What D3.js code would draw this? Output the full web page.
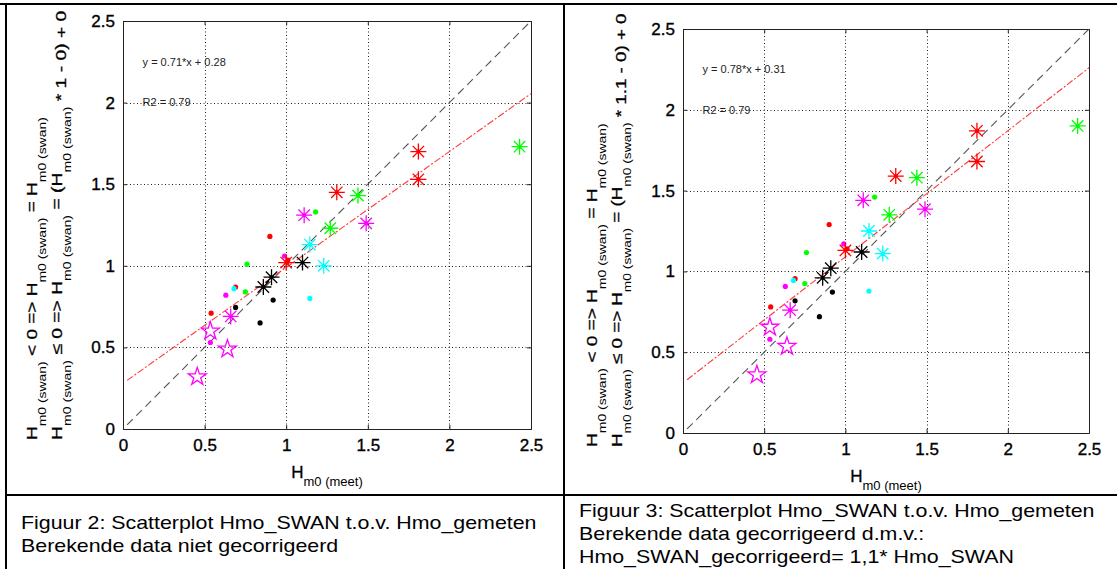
<!DOCTYPE html>
<html>
<head>
<meta charset="utf-8">
<script src="https://cdn.jsdelivr.net/npm/d3@7/dist/d3.min.js"></script>
<style>
  body { margin: 0; background: #fff; }
  svg { display: block; }
  text { font-family: "Liberation Sans", Arial, sans-serif; }
</style>
</head>
<body>
<div id="chart"></div>
<script>
// axis ticks (same on x and y)
const tickValues = [0, 0.5, 1, 1.5, 2, 2.5];
const tickLabels = ["0", "0.5", "1", "1.5", "2", "2.5"];

// marker colour classes
const groups = ["r", "g", "m", "c", "k"];

// large asterisks: measured Hm0, SWAN (fig 2), SWAN corrected (fig 3)
const astGroup = ["r", "r", "r", "r", "g", "g", "g", "m", "m", "m", "c", "c", "k", "k", "k"];
const astX     = [1.81, 1.81, 1.31, 1.00, 2.43, 1.44, 1.27, 1.11, 1.49, 0.66, 1.145, 1.23, 1.10, 0.91, 0.86];
const astY2    = [1.70, 1.53, 1.45, 1.02, 1.73, 1.43, 1.23, 1.31, 1.26, 0.69, 1.13, 1.00, 1.02, 0.93, 0.87];
const astY3    = [1.87, 1.68, 1.59, 1.13, 1.90, 1.58, 1.35, 1.44, 1.385, 0.76, 1.25, 1.11, 1.12, 1.02, 0.96];

// pentagrams (magenta)
const penX  = [0.535, 0.64, 0.455];
const penY2 = [0.60, 0.49, 0.32];
const penY3 = [0.655, 0.536, 0.36];

// small dots
const dotGroup = ["r", "r", "r", "r", "g", "g", "g", "m", "m", "m", "c", "c", "k", "k", "k"];
const dotX     = [0.90, 0.69, 0.54, 1.01, 1.18, 0.76, 0.75, 0.99, 0.63, 0.535, 0.68, 1.145, 0.69, 0.92, 0.84];
const dotY2    = [1.18, 0.87, 0.71, 1.035, 1.33, 1.01, 0.84, 1.06, 0.82, 0.53, 0.86, 0.80, 0.745, 0.79, 0.65];
const dotY3    = [1.29, 0.955, 0.78, 1.14, 1.46, 1.117, 0.925, 1.17, 0.907, 0.58, 0.944, 0.878, 0.818, 0.872, 0.72];

// line x-range, fitted lines
const lineX = [0.025, 2.5];
const fitSlope = [0.71, 0.78];
const fitIntercept = [0.28, 0.31];
const fitText = ["y = 0.71*x + 0.28", "y = 0.78*x + 0.31"];
const r2Text = ["R2 = 0.79", "R2 = 0.79"];
const factorText = ["1", "1.1"];

const captions = [
    ["Figuur 2: Scatterplot Hmo_SWAN t.o.v. Hmo_gemeten", "Berekende data niet gecorrigeerd"],
    ["Figuur 3: Scatterplot Hmo_SWAN t.o.v. Hmo_gemeten", "Berekende data gecorrigeerd d.m.v.:", "Hmo_SWAN_gecorrigeerd= 1,1* Hmo_SWAN"]
];

const W = 1117, H = 569;
const color = d3.scaleOrdinal().domain(groups)
    .range(["#ff0000", "#00ff00", "#ff00ff", "#00ffff", "#000000"]);

const svg = d3.select("#chart").append("svg")
    .attr("width", W).attr("height", H);

// table frame
const frame = svg.append("g").attr("stroke", "#000").attr("stroke-width", 2);
frame.append("line").attr("x1", 0).attr("x2", W).attr("y1", 4).attr("y2", 4);
frame.append("line").attr("x1", 6).attr("x2", 6).attr("y1", 3).attr("y2", H);
frame.append("line").attr("x1", 564).attr("x2", 564).attr("y1", 3).attr("y2", H);
frame.append("line").attr("x1", 6).attr("x2", W).attr("y1", 495).attr("y2", 495);

// rich text helper (subscripts)
function richText(g, segs, main, sub) {
    const t = g.append("text").attr("fill", "#000");
    let cur = 0;
    segs.forEach(s => {
        const target = s.shift || 0;
        const ts = t.append("tspan")
            .attr("font-size", s.sub ? sub : main)
            .attr("dy", target - cur)
            .text(s.t);
        if (!s.sub) ts.attr("stroke", "#000").attr("stroke-width", 0.3);
        cur = target;
    });
    return t;
}

const panels = [
    {x0: 123, x1: 531, y0: 21, y1: 429, ys: [astY2, penY2, dotY2], yl: 440, yLen: [323, 430]},
    {x0: 683, x1: 1089, y0: 29, y1: 433, ys: [astY3, penY3, dotY3], yl: 447, yLen: [324, 434]}
];

panels.forEach((p, i) => {
    const g = svg.append("g");
    const x = d3.scaleLinear().domain([0, 2.5]).range([p.x0, p.x1]);
    const y = d3.scaleLinear().domain([0, 2.5]).range([p.y1, p.y0]);

    // grid
    const grid = g.append("g").attr("stroke", "#222").attr("stroke-width", 1)
        .attr("stroke-dasharray", "1,2.5");
    grid.selectAll(".gx").data(tickValues.slice(1, -1)).enter().append("line")
        .attr("x1", d => Math.round(x(d)) + 0.5).attr("x2", d => Math.round(x(d)) + 0.5)
        .attr("y1", p.y0).attr("y2", p.y1);
    grid.selectAll(".gy").data(tickValues.slice(1, -1)).enter().append("line")
        .attr("y1", d => Math.round(y(d)) + 0.5).attr("y2", d => Math.round(y(d)) + 0.5)
        .attr("x1", p.x0).attr("x2", p.x1);

    // axes with inward ticks
    const fmt = d => tickLabels[tickValues.indexOf(d)];
    const ax = [
        g.append("g").attr("transform", `translate(0,${p.y1})`)
            .call(d3.axisBottom(x).tickValues(tickValues).tickFormat(fmt).tickSize(-4).tickPadding(10)),
        g.append("g").attr("transform", `translate(${p.x0},0)`)
            .call(d3.axisLeft(y).tickValues(tickValues).tickFormat(fmt).tickSize(-4).tickPadding(8)),
        g.append("g").attr("transform", `translate(0,${p.y0})`)
            .call(d3.axisTop(x).tickValues(tickValues).tickFormat("").tickSize(-4)),
        g.append("g").attr("transform", `translate(${p.x1},0)`)
            .call(d3.axisRight(y).tickValues(tickValues).tickFormat("").tickSize(-4))
    ];
    ax.forEach(a => {
        a.select(".domain").attr("stroke", "#222");
        a.selectAll(".tick line").attr("stroke", "#222");
        a.selectAll("text").attr("font-size", 17).attr("fill", "#000")
            .attr("font-family", "Liberation Sans, Arial, sans-serif")
            .attr("stroke", "#000").attr("stroke-width", 0.35);
    });

    // reference line y = x
    g.append("line")
        .attr("x1", x(lineX[0])).attr("y1", y(lineX[0]))
        .attr("x2", x(lineX[1])).attr("y2", y(lineX[1]))
        .attr("stroke", "#555").attr("stroke-width", 1.1)
        .attr("stroke-dasharray", "8,5");

    // fitted line
    g.append("line")
        .attr("x1", x(lineX[0])).attr("y1", y(fitSlope[i] * lineX[0] + fitIntercept[i]))
        .attr("x2", x(lineX[1])).attr("y2", y(fitSlope[i] * lineX[1] + fitIntercept[i]))
        .attr("stroke", "#ff3a3a").attr("stroke-width", 1.1)
        .attr("stroke-dasharray", "7,2,2,2");

    // annotations
    g.append("text").attr("x", x(0.12)).attr("y", y(2.25)).attr("dy", "0.35em")
        .attr("font-size", 11).attr("fill", "#222").text(fitText[i]);
    g.append("text").attr("x", x(0.12)).attr("y", y(2.0)).attr("dy", "0.35em")
        .attr("font-size", 11).attr("fill", "#222").text(r2Text[i]);

    const [aY, pY, dY] = p.ys;

    // small dots
    g.selectAll(".dot").data(dotX).enter().append("circle")
        .attr("cx", (d, j) => x(d)).attr("cy", (d, j) => y(dY[j]))
        .attr("r", 2.6).attr("fill", (d, j) => color(dotGroup[j]));

    // pentagrams
    const starPath = d3.symbol().type(d3.symbolStar).size(100);
    g.selectAll(".pen").data(penX).enter().append("path")
        .attr("d", starPath)
        .attr("transform", (d, j) => `translate(${x(d)},${y(pY[j])})`)
        .attr("fill", "none").attr("stroke", "#ff00ff").attr("stroke-width", 1.3);

    // asterisks
    const astPath = "M-8,0L8,0M0,-8L0,8M-5.7,-5.7L5.7,5.7M-5.7,5.7L5.7,-5.7";
    const ast = g.selectAll(".ast").data(astX).enter().append("g")
        .attr("transform", (d, j) => `translate(${x(d)},${y(aY[j])})`);
    ast.append("path").attr("d", astPath)
        .attr("stroke", (d, j) => color(astGroup[j])).attr("stroke-width", 1.3);
    ast.append("circle").attr("r", 2)
        .attr("fill", (d, j) => color(astGroup[j]));

    // x label
    richText(g, [{t: "H"}, {t: "m0 (meet)", sub: true, shift: 8}], 17, 13)
        .attr("text-anchor", "middle")
        .attr("x", (p.x0 + p.x1) / 2).attr("y", p.y1 + 49);

    // y label, two lines, rotated and stretched along the text
    const sw = {t: "m0 (swan)", sub: true, shift: 9};
    const l1 = [{t: "H"}, sw, {t: " < 0 => H"}, sw, {t: " = H"}, sw];
    const l2 = [{t: "H"}, sw, {t: " \u2264 0 => H"}, sw, {t: " = (H"}, sw,
                {t: " * " + factorText[i] + " - 0) + 0", shift: 4}];
    [l1, l2].forEach((segs, k) => {
        const t = richText(g, segs, 15, 11);
        const len = t.node().getComputedTextLength();
        t.attr("transform",
            `translate(${p.x0 - 86 + k * 25},${p.yl}) rotate(-90) scale(${p.yLen[k] / len},1)`);
    });
});

// captions (glyphs stretched horizontally as in the reference)
let capScale = null;
captions.forEach((lines, i) => {
    const x0 = i === 0 ? 21 : 579;
    const base = i === 0 ? [529, 552] : [517, 540, 563];
    lines.forEach((s, k) => {
        const t = svg.append("text").attr("font-size", 18)
            .attr("fill", "#000").text(s);
        if (capScale === null) capScale = 516 / t.node().getComputedTextLength();
        t.attr("transform", `translate(${x0},${base[k]}) scale(${capScale},1)`);
    });
});
</script>
</body>
</html>
